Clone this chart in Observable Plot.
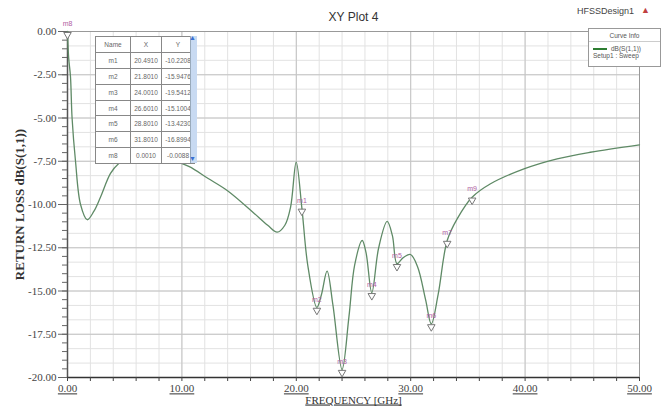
<!DOCTYPE html>
<html><head><meta charset="utf-8">
<script src="https://cdn.jsdelivr.net/npm/d3@7"></script>
<script src="https://cdn.jsdelivr.net/npm/@observablehq/plot@0.6"></script>
<style>
body{margin:0;background:#fff;}
#wrap{position:relative;width:664px;height:412px;overflow:hidden;}
.ov{position:absolute;font-family:"Liberation Sans",Arial,sans-serif;color:#333;}
#tbl{position:absolute;left:95px;top:36px;border-collapse:collapse;font-family:"Liberation Sans",sans-serif;font-size:6.5px;color:#666;background:#fff;}
#tbl td{border:1px solid #888;height:14.9px;padding:0;text-align:center;}
#legend{position:absolute;left:588px;top:28px;width:71px;height:37px;border:1px solid #999;background:#fff;font-family:"Liberation Sans",sans-serif;font-size:6.5px;color:#555;}
</style></head>
<body><div id="wrap"></div>
<script>
// curve data (frequency GHz, dB(S(1,1)))
const freq = [0,0.1,0.26,0.4,0.7,1.14,1.72,2.3,2.88,3.76,4.46,5.5,7.0,8.5,10.6,12.3,13.96,16.3,17.5,18.33,19.0,19.5,19.99,20.49,21.0,21.8,22.2,22.69,23.2,24.0,24.6,25.1,25.76,26.1,26.6,27.2,27.94,28.4,28.8,29.3,29.98,30.6,31.3,31.8,32.4,33.19,34.06,35.37,36.98,39.9,42.8,45.7,50];
const db   = [0,-1.5,-2.6,-5.0,-7.5,-10.0,-10.88,-10.4,-9.58,-8.2,-7.64,-7.25,-7.1,-7.3,-7.8,-8.5,-9.19,-10.5,-11.2,-11.6,-11.2,-10.15,-7.55,-10.22,-13.5,-15.95,-15.2,-13.85,-15.8,-19.54,-16.5,-13.5,-12.08,-12.8,-15.10,-12.5,-10.98,-11.8,-13.42,-13.1,-12.89,-13.6,-15.5,-16.90,-15.2,-12.08,-10.83,-9.58,-8.8,-7.94,-7.36,-6.98,-6.55];
// markers on the curve
const markerNames = ["m1","m2","m3","m4","m5","m6","m7","m9","m8"];
const markerFreq  = [20.49,21.80,24.00,26.60,28.80,31.80,33.19,35.37,0.001];
const markerDb    = [-10.22,-15.95,-19.54,-15.10,-13.42,-16.90,-12.08,-9.58,-0.0088];
// marker table
const tableNames = ["m1","m2","m3","m4","m5","m6","m8"];
const tableX = ["20.4910","21.8010","24.0010","26.6010","28.8010","31.8010","0.0010"];
const tableY = ["-10.2208","-15.9476","-19.5412","-15.1004","-13.4230","-16.8994","-0.0088"];
// axis ticks
const xTicks = [0,10,20,30,40,50];
const yTicks = [0,-2.5,-5,-7.5,-10,-12.5,-15,-17.5,-20];

const curve = freq.map((f,i)=>({f, v: db[i]}));
const markers = markerNames.map((n,i)=>({n, f: markerFreq[i], v: markerDb[i]}));
const xMinor = d3.range(0,50.01,2);
const yMinorGrid = d3.range(-20,0.01,2.5/3);
const yMinorTicks = d3.range(-20,0.01,0.5);

const chart = Plot.plot({
  width:664, height:412,
  marginLeft:67, marginRight:25, marginTop:31, marginBottom:35,
  x:{type:"linear", domain:[0,50]}, y:{type:"linear", domain:[-20,0]},
  style:{background:"#fff", fontFamily:"Liberation Serif, serif", fontSize:"11px", color:"#444"},
  marks:[
    Plot.gridX(xMinor,{stroke:"#e2e2e2", strokeOpacity:1}),
    Plot.gridY(yMinorGrid,{stroke:"#e2e2e2", strokeOpacity:1}),
    Plot.gridX(xTicks,{stroke:"#c4c4c4", strokeOpacity:1}),
    Plot.gridY(yTicks,{stroke:"#c4c4c4", strokeOpacity:1}),
    Plot.frame({stroke:"#999"}),
    Plot.ruleX([0],{stroke:"#555", strokeWidth:1.5}),
    Plot.ruleY([-20],{stroke:"#333", strokeWidth:1.5}),
    Plot.axisY(yTicks,{tickFormat:d=>d.toFixed(2), tickSize:9, tickPadding:2, stroke:"#666", fill:"#444", fontSize:11, label:null}),
    Plot.axisY(yMinorTicks,{tickSize:5, text:null, stroke:"#666", label:null}),
    Plot.axisX(xMinor,{tickSize:4, text:null, stroke:"#444", label:null}),
    Plot.axisX(xTicks,{tickFormat:d=>d.toFixed(2), tickSize:0, tickPadding:7, fill:"#444", fontSize:11, label:null}),
    Plot.text(["RETURN LOSS dB(S(1,1))"],{frameAnchor:"left", textAnchor:"middle", dx:-48, rotate:-90, fontWeight:"bold", fontSize:13, fill:"#333", letterSpacing:"1px"}),
    Plot.text(["FREQUENCY [GHz]"],{frameAnchor:"bottom", dy:26, fontSize:11, fill:"#333"}),
    Plot.text(["XY Plot 4"],{frameAnchor:"top", dy:-19, fontFamily:"Liberation Sans, sans-serif", fontSize:12, fill:"#333"}),
    Plot.line(curve,{x:"f", y:"v", curve:"catmull-rom", stroke:"#5f8a66", strokeWidth:1.3}),
    Plot.dot(markers,{x:"f", y:"v", symbol:"triangle", rotate:180, r:2.8, dy:3, fill:"#fff", stroke:"#777", strokeWidth:1}),
    Plot.text(markers,{x:"f", y:"v", text:"n", dy:-8, fontSize:7, fill:"#b0609f", fontFamily:"Liberation Sans, sans-serif"})
  ]
});
document.getElementById("wrap").appendChild(chart);
d3.select(chart).selectAll("g[aria-label='x-axis tick label'] text").style("text-decoration","underline");
d3.select(chart).selectAll("text").filter(function(){return this.textContent==="FREQUENCY [GHz]";}).style("text-decoration","underline");

// table overlay
const tbl = d3.select("#wrap").append("table").attr("id","tbl");
const hdr = tbl.append("tr");
[["Name",34],["X",30],["Y",32]].forEach(([t,w])=>hdr.append("td").style("width",w+"px").text(t));
tableNames.forEach((n,i)=>{
  const r = tbl.append("tr");
  r.append("td").text(n); r.append("td").text(tableX[i]); r.append("td").text(tableY[i]);
});
d3.select("#wrap").append("div").attr("class","ov")
  .style("left","190px").style("top","36px").style("width","6px").style("height","127px")
  .style("background","#c8daf2").style("border-left","1px solid #9ab");
d3.select("#wrap").append("div").attr("class","ov").style("left","189px").style("top","34px")
  .style("font-size","7px").style("color","#3a6fd0").text("▲");
d3.select("#wrap").append("div").attr("class","ov").style("left","189px").style("top","155px")
  .style("font-size","7px").style("color","#3a6fd0").text("▼");

// top-right labels and legend
d3.select("#wrap").append("div").attr("class","ov").style("left","577px").style("top","6px")
  .style("font-size","9px").style("color","#444").text("HFSSDesign1");
d3.select("#wrap").append("div").attr("class","ov").style("left","641px").style("top","5px")
  .style("font-size","9px").style("color","#c04040").text("▲");
const lg = d3.select("#wrap").append("div").attr("id","legend");
lg.append("div").style("text-align","center").style("margin-top","3px").style("padding-bottom","2px").style("border-bottom","1px solid #ccc").text("Curve Info");
const row = lg.append("div").style("margin-top","3px").style("padding-left","4px");
row.append("span").style("display","inline-block").style("width","14px").style("height","2px").style("background","#2e7d32").style("vertical-align","middle").style("margin-right","4px");
row.append("span").text("dB(S(1,1))");
lg.append("div").style("padding-left","4px").text("Setup1 : Sweep");
</script></body></html>
